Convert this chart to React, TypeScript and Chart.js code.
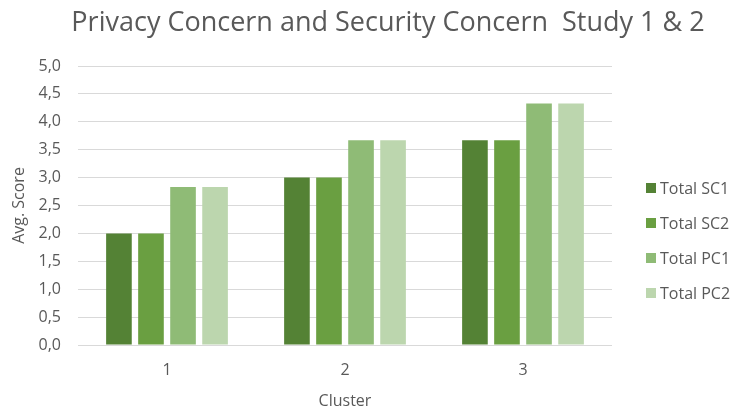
import React, { useEffect, useRef } from "react";
import { Chart, registerables } from "chart.js";

Chart.register(...registerables);

const TITLE = "Privacy Concern and Security Concern  Study 1 & 2";
const CLUSTERS = ["1", "2", "3"];
const SERIES_NAMES = ["Total SC1", "Total SC2", "Total PC1", "Total PC2"];
const SERIES_COLORS = ["#548235", "#6a9f41", "#8fbb76", "#bcd6ae"];
const TOTAL_SC1 = [2.0, 3.0, 3.67];
const TOTAL_SC2 = [2.0, 3.0, 3.67];
const TOTAL_PC1 = [2.83, 3.67, 4.33];
const TOTAL_PC2 = [2.83, 3.67, 4.33];
const SERIES_VALUES = [TOTAL_SC1, TOTAL_SC2, TOTAL_PC1, TOTAL_PC2];

const FONT = "'Open Sans', 'Noto Sans', sans-serif";
const TEXT_COLOR = "#595959";

// Draws the chart title and the legend in the right margin.
const decorations = {
  id: "decorations",
  afterDraw(chart: Chart) {
    const ctx = chart.ctx;
    ctx.save();
    ctx.fillStyle = TEXT_COLOR;
    ctx.font = `27px ${FONT}`;
    ctx.textAlign = "center";
    ctx.textBaseline = "alphabetic";
    ctx.fillText(TITLE, 388, 31);

    const area = chart.chartArea;
    const boxX = area.right + 34;
    const rowGap = 35;
    const firstY = 188;
    ctx.font = `16px ${FONT}`;
    ctx.textAlign = "left";
    ctx.textBaseline = "middle";
    chart.data.datasets.forEach((ds, i) => {
      const y = firstY + i * rowGap;
      ctx.fillStyle = ds.backgroundColor as string;
      ctx.fillRect(boxX, y - 5, 10, 10);
      ctx.fillStyle = TEXT_COLOR;
      ctx.fillText(ds.label as string, boxX + 14, y + 1);
    });
    ctx.restore();
  },
};

export default function App() {
  const canvasRef = useRef<HTMLCanvasElement | null>(null);

  useEffect(() => {
    if (!canvasRef.current) return;
    const chart = new Chart(canvasRef.current, {
      type: "bar",
      data: {
        labels: CLUSTERS,
        datasets: SERIES_NAMES.map((name, i) => ({
          label: name,
          data: SERIES_VALUES[i],
          backgroundColor: SERIES_COLORS[i],
          borderWidth: 0,
          categoryPercentage: 0.72,
          barPercentage: 0.8,
        })),
      },
      options: {
        animation: false,
        responsive: true,
        maintainAspectRatio: false,
        layout: { padding: { left: 0, right: 122, top: 66, bottom: 0 } },
        plugins: {
          legend: { display: false },
          title: { display: false },
          tooltip: { enabled: false },
        },
        scales: {
          x: {
            grid: { display: false, drawTicks: false },
            border: { display: false },
            ticks: {
              color: TEXT_COLOR,
              font: { family: FONT, size: 16 },
              padding: 16,
            },
            title: {
              display: true,
              text: "Cluster",
              color: TEXT_COLOR,
              font: { family: FONT, size: 16 },
              padding: { top: 0, bottom: 1 },
            },
            afterFit: (s: any) => {
              s.height = 67;
            },
          },
          y: {
            min: 0,
            max: 5,
            grid: { color: "#d9d9d9", lineWidth: 1, drawTicks: false },
            border: { display: false },
            ticks: {
              stepSize: 0.5,
              color: TEXT_COLOR,
              font: { family: FONT, size: 16 },
              padding: 17,
              callback: (v: any) => Number(v).toFixed(1).replace(".", ","),
            },
            title: {
              display: true,
              text: "Avg. Score",
              color: TEXT_COLOR,
              font: { family: FONT, size: 16 },
              padding: { top: 10, bottom: 0 },
            },
            afterFit: (s: any) => {
              s.width = 78;
            },
          },
        },
      },
      plugins: [decorations],
    });
    return () => chart.destroy();
  }, []);

  return (
    <div style={{ position: "absolute", left: 0, top: 0, width: 734, height: 412, background: "#fff" }}>
      <canvas ref={canvasRef} />
    </div>
  );
}
